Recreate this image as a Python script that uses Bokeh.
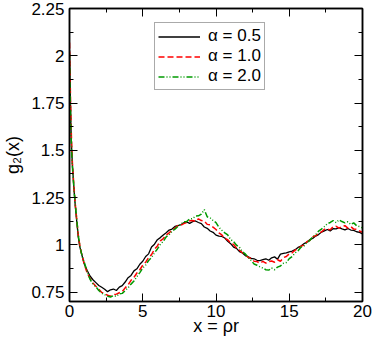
from bokeh.plotting import figure
from bokeh.models import FixedTicker, LinearAxis, Legend, LegendItem, Range1d
from bokeh.embed import file_html
from bokeh.resources import INLINE

# ---------------- data ----------------
x = [0.0, 0.05, 0.1, 0.15, 0.2, 0.3, 0.4, 0.5, 0.6, 0.7, 0.8, 0.9, 1.0,
     1.2, 1.4, 1.6, 1.8, 2.0, 2.2, 2.4, 2.6, 2.8, 3.0, 3.2, 3.4, 3.6, 3.8,
     4.0, 4.2, 4.4, 4.6, 4.8, 5.0, 5.2, 5.4, 5.6, 5.8, 6.0, 6.2, 6.4, 6.6, 6.8,
     7.0, 7.2, 7.4, 7.6, 7.8, 8.0, 8.2, 8.4, 8.6, 8.8, 9.0, 9.2, 9.4, 9.6, 9.8,
     10.0, 10.2, 10.4, 10.6, 10.8, 11.0, 11.2, 11.4, 11.6, 11.8, 12.0, 12.2, 12.4, 12.6, 12.8,
     13.0, 13.2, 13.4, 13.6, 13.8, 14.0, 14.2, 14.4, 14.6, 14.8, 15.0, 15.2, 15.4, 15.6, 15.8,
     16.0, 16.2, 16.4, 16.6, 16.8, 17.0, 17.2, 17.4, 17.6, 17.8, 18.0, 18.2, 18.4, 18.6, 18.8,
     19.0, 19.2, 19.4, 19.6, 19.8, 20.0]

g_a05 = [2.03, 1.80, 1.62, 1.50, 1.42, 1.30, 1.20, 1.12, 1.04, 0.99, 0.96, 0.93, 0.90,
         0.865, 0.835, 0.815, 0.80, 0.785, 0.775, 0.765, 0.752, 0.762, 0.766, 0.758, 0.776, 0.784, 0.803,
         0.826, 0.838, 0.862, 0.873, 0.897, 0.913, 0.938, 0.952, 0.988, 1.003, 1.027, 1.038, 1.052, 1.064, 1.078,
         1.083, 1.097, 1.101, 1.106, 1.116, 1.121, 1.113, 1.122, 1.126, 1.118, 1.112, 1.094, 1.087, 1.073, 1.066,
         1.051, 1.046, 1.044, 1.036, 1.019, 1.006, 0.988, 0.981, 0.964, 0.957, 0.943, 0.936, 0.928, 0.926, 0.918,
         0.916, 0.921, 0.926, 0.918, 0.931, 0.936, 0.924, 0.951, 0.954, 0.957, 0.963, 0.967, 0.974, 0.986, 0.993,
         1.006, 1.013, 1.027, 1.034, 1.046, 1.054, 1.067, 1.074, 1.081, 1.073, 1.086, 1.084, 1.091, 1.084, 1.079,
         1.086, 1.078, 1.076, 1.069, 1.066, 1.058]

g_a10 = [2.07, 1.85, 1.66, 1.52, 1.43, 1.31, 1.21, 1.13, 1.05, 1.00, 0.96, 0.93, 0.90,
         0.852, 0.822, 0.798, 0.781, 0.765, 0.748, 0.741, 0.733, 0.728, 0.736, 0.739, 0.746, 0.753, 0.772,
         0.788, 0.812, 0.828, 0.851, 0.868, 0.892, 0.908, 0.932, 0.948, 0.977, 0.994, 1.021, 1.033, 1.052, 1.063,
         1.077, 1.088, 1.102, 1.103, 1.112, 1.118, 1.127, 1.128, 1.124, 1.137, 1.128, 1.126, 1.108, 1.106, 1.093,
         1.081, 1.063, 1.052, 1.033, 1.027, 1.008, 1.002, 0.983, 0.972, 0.958, 0.947, 0.933, 0.927, 0.913, 0.911,
         0.903, 0.912, 0.903, 0.911, 0.914, 0.908, 0.921, 0.913, 0.932, 0.938, 0.952, 0.958, 0.972, 0.978, 0.992,
         0.998, 1.016, 1.023, 1.042, 1.048, 1.061, 1.068, 1.082, 1.083, 1.079, 1.096, 1.098, 1.088, 1.097, 1.101,
         1.088, 1.096, 1.083, 1.082, 1.073, 1.066]

g_a20 = [2.01, 1.78, 1.60, 1.49, 1.41, 1.30, 1.21, 1.13, 1.05, 1.00, 0.96, 0.93, 0.91,
         0.858, 0.818, 0.792, 0.778, 0.758, 0.744, 0.736, 0.728, 0.724, 0.731, 0.727, 0.741, 0.743, 0.757,
         0.773, 0.792, 0.808, 0.832, 0.853, 0.877, 0.893, 0.917, 0.933, 0.957, 0.978, 1.002, 1.018, 1.042, 1.053,
         1.072, 1.083, 1.097, 1.108, 1.122, 1.123, 1.137, 1.138, 1.152, 1.153, 1.162, 1.186, 1.148, 1.142, 1.128,
         1.117, 1.093, 1.077, 1.063, 1.052, 1.028, 1.017, 0.998, 0.987, 0.963, 0.952, 0.933, 0.917, 0.898, 0.892,
         0.883, 0.877, 0.868, 0.866, 0.877, 0.868, 0.882, 0.888, 0.902, 0.906, 0.927, 0.938, 0.957, 0.968, 0.987,
         0.993, 1.012, 1.023, 1.042, 1.053, 1.072, 1.083, 1.097, 1.112, 1.118, 1.128, 1.117, 1.132, 1.123, 1.116,
         1.122, 1.108, 1.116, 1.101, 1.096, 1.089]

series_labels = ["\u03b1 = 0.5", "\u03b1 = 1.0", "\u03b1 = 2.0"]

x_ticks = [0, 5, 10, 15, 20]
x_minor = [2.5, 7.5, 12.5, 17.5]
y_ticks = [0.75, 1.0, 1.25, 1.5, 1.75, 2.0, 2.25]
y_tick_labels = ["0.75", "1", "1.25", "1.5", "1.75", "2", "2.25"]
y_minor = [0.875, 1.125, 1.375, 1.625, 1.875, 2.125]

FONT = "Liberation Sans"

p = figure(width=374, height=340, output_backend="svg", toolbar_location=None,
           x_range=Range1d(0, 20), y_range=Range1d(0.7, 2.25),
           min_border_left=69, min_border_right=12, min_border_top=8, min_border_bottom=39)
p.background_fill_color = "white"
p.border_fill_color = "white"
p.grid.visible = False
p.outline_line_color = "black"
p.outline_line_width = 1.5

def style_axis(ax, labels=True):
    ax.axis_line_color = "black"
    ax.axis_line_width = 1.5
    ax.major_tick_in = 8
    ax.major_tick_out = 0
    ax.minor_tick_in = 4
    ax.minor_tick_out = 0
    ax.major_tick_line_color = "black"
    ax.minor_tick_line_color = "black"
    ax.major_tick_line_width = 1
    ax.minor_tick_line_width = 1
    if labels:
        ax.major_label_text_font = FONT
        ax.major_label_text_font_size = "17px"
        ax.major_label_text_color = "black"
        ax.axis_label_text_font = FONT
        ax.axis_label_text_font_size = "18px"
        ax.axis_label_text_font_style = "normal"
        ax.axis_label_text_color = "black"
    else:
        ax.major_label_standoff = 0
        ax.axis_label = None

p.xaxis.ticker = FixedTicker(ticks=x_ticks, minor_ticks=x_minor)
p.yaxis.ticker = FixedTicker(ticks=y_ticks, minor_ticks=y_minor)
p.yaxis.major_label_overrides = dict(zip(y_ticks, y_tick_labels))
p.xaxis.axis_label = "x = \u03c1r"
p.yaxis.axis_label = "g\u2082(x)"
style_axis(p.xaxis[0])
style_axis(p.yaxis[0])
p.xaxis.major_label_standoff = 3
p.xaxis.axis_label_standoff = -4
p.yaxis.major_label_standoff = 5
p.yaxis.axis_label_standoff = 5

top = LinearAxis(ticker=FixedTicker(ticks=x_ticks, minor_ticks=x_minor))
top.major_label_overrides = {t: "" for t in x_ticks}
right = LinearAxis(ticker=FixedTicker(ticks=y_ticks, minor_ticks=y_minor))
right.major_label_overrides = {t: "" for t in y_ticks}
style_axis(top, labels=False)
style_axis(right, labels=False)
p.add_layout(top, "above")
p.add_layout(right, "right")

r1 = p.line(x, g_a05, line_color="black", line_width=1.3)
r2 = p.line(x, g_a10, line_color="#ff0000", line_width=1.5, line_dash="6 3")
r3 = p.line(x, g_a20, line_color="#009a00", line_width=1.5, line_dash="6 2 1 2 1 2")

legend = Legend(items=[LegendItem(label=series_labels[0], renderers=[r1]),
                       LegendItem(label=series_labels[1], renderers=[r2]),
                       LegendItem(label=series_labels[2], renderers=[r3])],
                location=(85, 211), orientation="vertical",
                label_text_font=FONT, label_text_font_size="17px", label_text_color="black",
                glyph_width=42, glyph_height=17, label_height=17, label_standoff=8,
                spacing=-2, padding=3, margin=0,
                border_line_color="#555555", border_line_width=1.5,
                background_fill_color="white", background_fill_alpha=1.0)
p.add_layout(legend, "center")

open("out.html", "w").write(file_html(p, INLINE))
